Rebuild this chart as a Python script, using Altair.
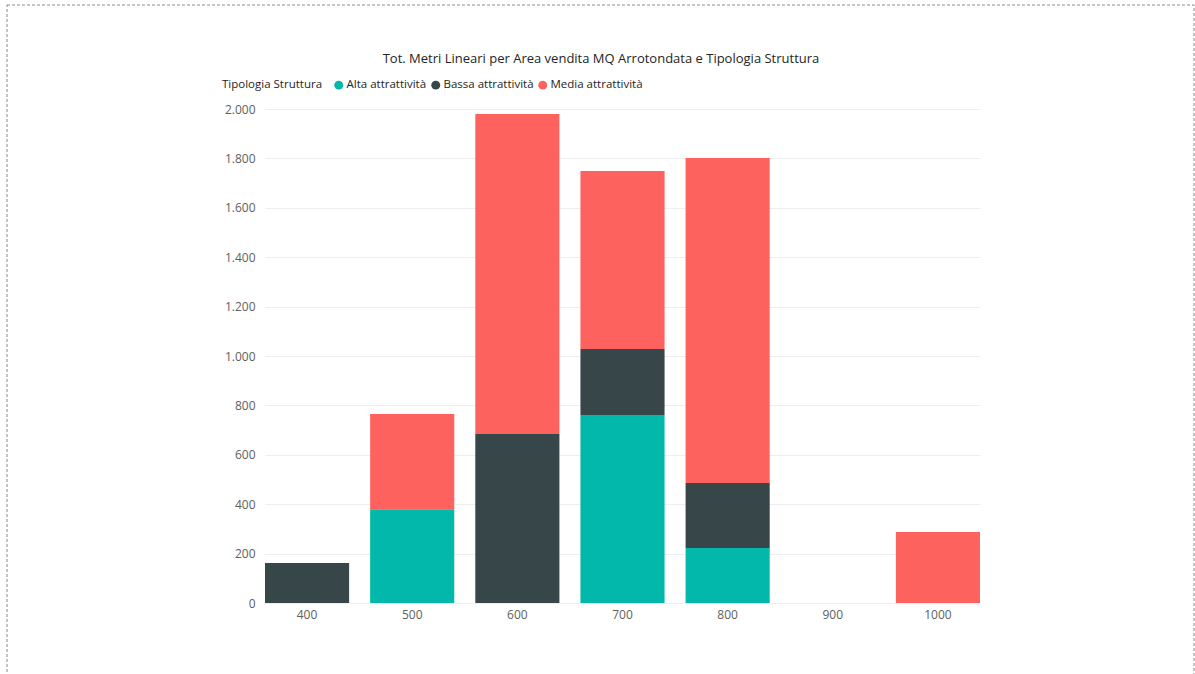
import altair as alt
import pandas as pd

categories = ["400", "500", "600", "700", "800", "900", "1000"]
series = ["Alta attrattività", "Bassa attrattività", "Media attrattività"]
alta = [0, 380, 0, 761, 223, 0, 0]
bassa = [162, 0, 684, 267, 263, 0, 0]
media = [0, 385, 1296, 721, 1316, 0, 287]
colors = ["#01B8AA", "#374649", "#FD625E"]
title_text = "Tot. Metri Lineari per Area vendita MQ Arrotondata e Tipologia Struttura"

rows = []
for i, c in enumerate(categories):
    for k, (s, vals) in enumerate(zip(series, [alta, bassa, media])):
        if vals[i] > 0:
            rows.append({"Area": c, "Tipologia Struttura": s, "Metri": vals[i], "ord": k})
df = pd.DataFrame(rows)

FONT = "Segoe UI, Open Sans, sans-serif"
W, H = 715, 494

bars = alt.Chart(df).mark_bar().encode(
    x=alt.X("Area:N", sort=categories,
            scale=alt.Scale(domain=categories, paddingInner=0.2, paddingOuter=0),
            axis=alt.Axis(title=None, labelAngle=0, ticks=False, domain=False, grid=False,
                          labelColor="#605E5C", labelFontSize=12, labelFont=FONT, labelPadding=6)),
    y=alt.Y("Metri:Q", stack="zero",
            scale=alt.Scale(domain=[0, 2000], nice=False),
            axis=alt.Axis(title=None, values=list(range(0, 2001, 200)), ticks=False, domain=False,
                          gridColor="#EEEEEE", labelColor="#605E5C", labelFontSize=12, labelFont=FONT,
                          labelPadding=10,
                          labelExpr="replace(format(datum.value, ','), ',', '.')")),
    color=alt.Color("Tipologia Struttura:N",
                    scale=alt.Scale(domain=series, range=colors),
                    legend=alt.Legend(orient="none", legendX=-43, legendY=-30, direction="horizontal",
                                      titleOrient="left", symbolType="circle", symbolSize=80,
                                      labelFont=FONT, titleFont=FONT, labelFontSize=11.5, titleFontSize=11.5,
                                      titleFontWeight="normal", titleColor="#252423", labelColor="#252423",
                                      labelOffset=2, columnPadding=3, titlePadding=10)),
    order=alt.Order("ord:Q"),
)

title_df = pd.DataFrame({"t": [title_text]})
title = alt.Chart(title_df).mark_text(font=FONT, fontSize=13, color="#252423",
                                      align="center", baseline="middle").encode(
    text="t:N", x=alt.value(336), y=alt.value(-50)
)

frame_df = pd.DataFrame({"f": [1]})
frame = alt.Chart(frame_df).mark_rect(fill=None, stroke="#8a8a8a", strokeDash=[3, 2], strokeWidth=1).encode(
    x=alt.value(-258), x2=alt.value(929), y=alt.value(-104), y2=alt.value(580)
)

chart = alt.layer(bars, title, frame).properties(
    width=W, height=H,
    autosize=alt.AutoSizeParams(type="none"),
    padding={"left": 265, "top": 109, "right": 215, "bottom": 71},
).configure(background="white").configure_view(stroke=None)

chart.save("out.html", embed_options={"renderer": "svg", "actions": False})
